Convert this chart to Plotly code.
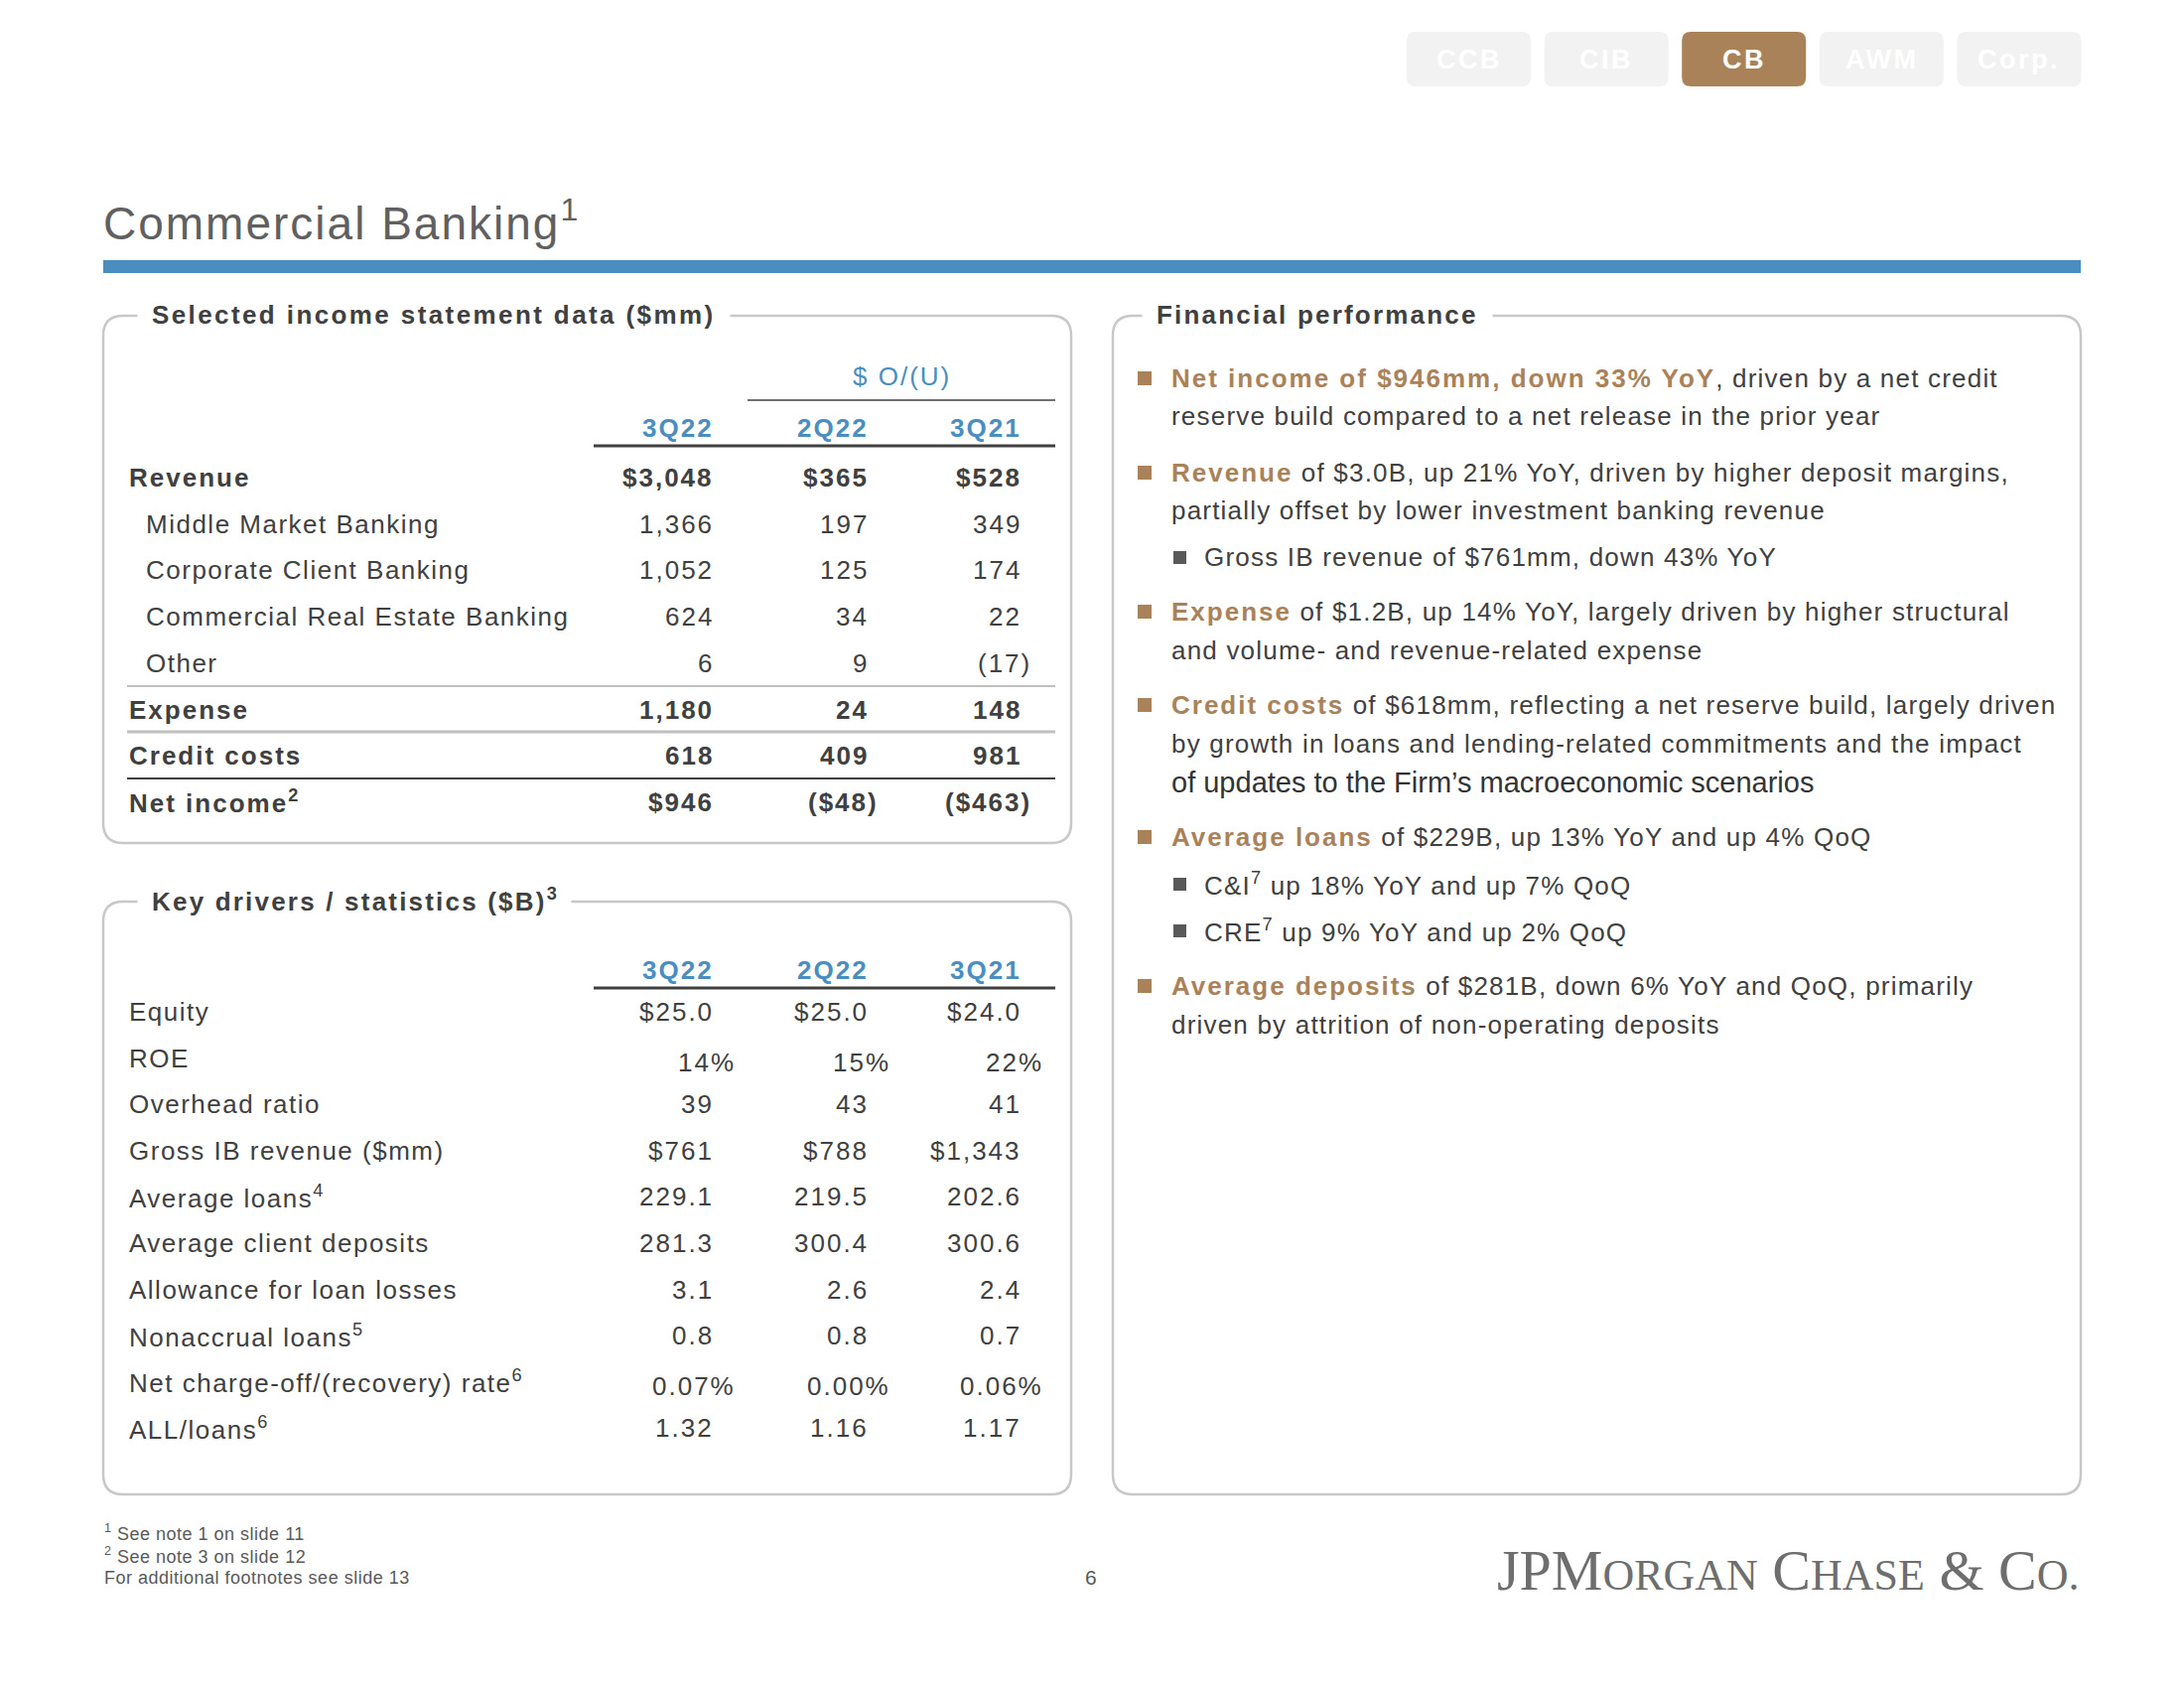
import plotly.graph_objects as go

# ---- data ----
tabs = ["CCB", "CIB", "CB", "AWM", "Corp."]
active_tab = "CB"

periods = ["3Q22", "2Q22", "3Q21"]

inc_labels = ["Revenue", "Middle Market Banking", "Corporate Client Banking",
              "Commercial Real Estate Banking", "Other", "Expense",
              "Credit costs", "Net income<sup>2</sup>"]
inc_bold = [True, False, False, False, False, True, True, True]
inc_3q22 = ["$3,048", "1,366", "1,052", "624", "6", "1,180", "618", "$946"]
inc_2q22 = ["$365", "197", "125", "34", "9", "24", "409", "($48)"]
inc_3q21 = ["$528", "349", "174", "22", "(17)", "148", "981", "($463)"]

kd_labels = ["Equity", "ROE", "Overhead ratio", "Gross IB revenue ($mm)",
             "Average loans<sup>4</sup>", "Average client deposits",
             "Allowance for loan losses", "Nonaccrual loans<sup>5</sup>",
             "Net charge-off/(recovery) rate<sup>6</sup>", "ALL/loans<sup>6</sup>"]
kd_3q22 = ["$25.0", "14%", "39", "$761", "229.1", "281.3", "3.1", "0.8", "0.07%", "1.32"]
kd_2q22 = ["$25.0", "15%", "43", "$788", "219.5", "300.4", "2.6", "0.8", "0.00%", "1.16"]
kd_3q21 = ["$24.0", "22%", "41", "$1,343", "202.6", "300.6", "2.4", "0.7", "0.06%", "1.17"]

# (level, highlighted lead-in, rest of line); level 0 = continuation line
perf_lines = [
    (1, "Net income of $946mm, down 33% YoY", ", driven by a net credit"),
    (0, "", "reserve build compared to a net release in the prior year"),
    (1, "Revenue", " of $3.0B, up 21% YoY, driven by higher deposit margins,"),
    (0, "", "partially offset by lower investment banking revenue"),
    (2, "", "Gross IB revenue of $761mm, down 43% YoY"),
    (1, "Expense", " of $1.2B, up 14% YoY, largely driven by higher structural"),
    (0, "", "and volume- and revenue-related expense"),
    (1, "Credit costs", " of $618mm, reflecting a net reserve build, largely driven"),
    (0, "", "by growth in loans and lending-related commitments and the impact"),
    (0, "", "of updates to the Firm\u2019s macroeconomic scenarios"),
    (1, "Average loans", " of $229B, up 13% YoY and up 4% QoQ"),
    (2, "", "C&I<sup>7</sup> up 18% YoY and up 7% QoQ"),
    (2, "", "CRE<sup>7</sup> up 9% YoY and up 2% QoQ"),
    (1, "Average deposits", " of $281B, down 6% YoY and QoQ, primarily"),
    (0, "", "driven by attrition of non-operating deposits"),
]
perf_y = [381, 419, 476, 514, 561, 616, 655, 710, 749, 788, 843, 890, 937, 993, 1032]

footnotes = ["<sup>1</sup> See note 1 on slide 11", "<sup>2</sup> See note 3 on slide 12",
             "For additional footnotes see slide 13"]
page_no = "6"

# ---- styling ----
FONT = "Liberation Sans, Arial"
DARK = "#404040"
GRAY = "#595959"
BLUE = "#4A8EC1"
GOLD = "#A9825A"
BORDER = "#C8C8C8"
W, H = 2200, 1700


def ls(t, px=1.5):
    return f"<span style='letter-spacing:{px}px'>{t}</span>"


def rounded(x0, y0, x1, y1, r):
    return (f"M{x0+r},{y0} L{x1-r},{y0} Q{x1},{y0} {x1},{y0+r} L{x1},{y1-r} "
            f"Q{x1},{y1} {x1-r},{y1} L{x0+r},{y1} Q{x0},{y1} {x0},{y1-r} "
            f"L{x0},{y0+r} Q{x0},{y0} {x0+r},{y0} Z")


fig = go.Figure()
shapes, ann = [], []


def txt(x, y, t, size=26, color=DARK, xa="left", ya="middle", family=FONT, **kw):
    ann.append(dict(x=x, y=y, text=t, showarrow=False, xanchor=xa, yanchor=ya,
                    font=dict(family=family, size=size, color=color), **kw))


def line(x0, x1, y, color, w=2):
    shapes.append(dict(type="line", x0=x0, x1=x1, y0=y, y1=y,
                       line=dict(color=color, width=w)))


# tabs
tab_x0, tab_w, tab_gap = 1417, 125, 13.6
for i, t in enumerate(tabs):
    x0 = tab_x0 + i * (tab_w + tab_gap)
    fill = GOLD if t == active_tab else "#F2F2F2"
    shapes.append(dict(type="path", path=rounded(x0, 32, x0 + tab_w, 87, 9),
                       fillcolor=fill, line=dict(width=0)))
    txt(x0 + tab_w / 2, 60, "<b>" + ls(t, 2.5) + "</b>", size=27, color="white", xa="center")

# title + bar
txt(102, 222, ls("Commercial Banking", 2) + "<sup>1</sup>", size=46, color="#606060")
shapes.append(dict(type="rect", x0=104, x1=2096, y0=262, y1=275,
                   fillcolor=BLUE, line=dict(width=0)))

# boxes
for (x0, y0, x1, y1) in [(104, 318, 1079, 849), (104, 908, 1079, 1505), (1121, 318, 2096, 1505)]:
    shapes.append(dict(type="path", path=rounded(x0, y0, x1, y1, 20),
                       line=dict(color=BORDER, width=2.5)))

box_title = dict(bgcolor="white", borderpad=14)
txt(138, 317, "<b>" + ls("Selected income statement data ($mm)", 2.4) + "</b>", size=26, **box_title)
txt(138, 906, "<b>" + ls("Key drivers / statistics ($B)", 2.2) + "<sup>3</sup></b>", size=26, **box_title)
txt(1150, 317, "<b>" + ls("Financial performance", 2.2) + "</b>", size=26, **box_title)

col_right = [721, 877, 1031]

# income statement table
txt(908, 379, ls("$ O/(U)", 2), size=26, color=BLUE, xa="center")
line(753, 1063, 403, DARK, 1.5)
for xr, p in zip(col_right, periods):
    txt(xr, 431, "<b>" + ls(p, 2) + "</b>", size=26, color=BLUE, xa="right")
line(598, 1063, 449, DARK, 3)

row_h = 46.7
for i, lab in enumerate(inc_labels):
    y = 481 + i * row_h
    bold = inc_bold[i]
    x_lab = 128 if bold else 145
    t = ls(lab, 2 if bold else 1.5)
    txt(x_lab, y, f"<b>{t}</b>" if bold else t)
    for xr, col in zip(col_right, [inc_3q22, inc_2q22, inc_3q21]):
        v = col[i]
        xv = xr + (10 if v.endswith(")") else 0)
        t = ls(v, 2)
        txt(xv, y, f"<b>{t}</b>" if bold else t, xa="right")
for y, c, w in [(691, "#BFBFBF", 2), (737, "#BFBFBF", 3), (784, DARK, 2)]:
    line(128, 1063, y, c, w)

# key drivers table
for xr, p in zip(col_right, periods):
    txt(xr, 977, "<b>" + ls(p, 2) + "</b>", size=26, color=BLUE, xa="right")
line(598, 1063, 995, DARK, 3)
for i, lab in enumerate(kd_labels):
    y = 1019 + i * 46.6
    txt(128, y, ls(lab, 1.5))
    for xr, col in zip(col_right, [kd_3q22, kd_2q22, kd_3q21]):
        v = col[i]
        pct = v.endswith("%")
        txt(xr + (22 if pct else 0), y + (4 if pct else 0), ls(v, 2), xa="right")

# financial performance bullets
for (lvl, lead, rest), y in zip(perf_lines, perf_y):
    lead_html = f"<b><span style='color:{GOLD}'>{ls(lead, 2)}</span></b>" if lead else ""
    if "macroeconomic" in rest:
        txt(1178, y, rest, size=29, color="#333333")
        continue
    body = ls(rest, 1.2)
    if lvl == 1:
        shapes.append(dict(type="rect", x0=1146, x1=1160, y0=y - 7, y1=y + 7,
                           fillcolor=GOLD, line=dict(width=0)))
        txt(1178, y, lead_html + body)
    elif lvl == 2:
        shapes.append(dict(type="rect", x0=1182, x1=1195, y0=y - 6, y1=y + 7,
                           fillcolor=GRAY, line=dict(width=0)))
        txt(1211, y, body)
    else:
        txt(1178, y, body)

# footnotes / page / logo
for j, f in enumerate(footnotes):
    txt(103, 1543 + j * 23, ls(f, 0.5), size=18, color=GRAY)
txt(1099, 1588, page_no, size=21, color=GRAY, xa="center")

big, small = 58, 44
logo = (f"JPM<span style='font-size:{small}px'>ORGAN</span> "
        f"C<span style='font-size:{small}px'>HASE</span> &amp; "
        f"C<span style='font-size:{small}px'>O.</span>")
txt(2097, 1581, logo, size=big, color="#6E6E6E", xa="right",
    family="Liberation Serif, Times New Roman")

fig.update_layout(
    width=W, height=H, margin=dict(l=0, r=0, t=0, b=0),
    paper_bgcolor="white", plot_bgcolor="white",
    xaxis=dict(range=[0, W], visible=False, fixedrange=True),
    yaxis=dict(range=[H, 0], visible=False, fixedrange=True),
    shapes=shapes, annotations=ann, showlegend=False,
)
fig.write_html("out.html", config={"displayModeBar": False},
               post_script="document.body.style.margin='0px';")
